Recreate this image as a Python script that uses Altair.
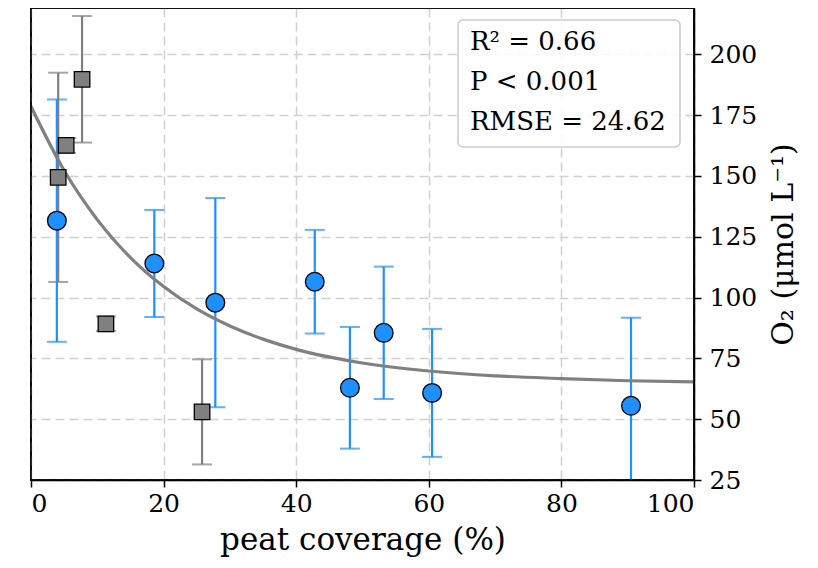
import altair as alt
import pandas as pd

# Blue circles (mean and symmetric error)
blue_x = [3.9, 18.6, 27.8, 42.8, 48.1, 53.2, 60.5, 90.5]
blue_y = [131.6, 114.0, 97.9, 106.5, 62.9, 85.5, 60.8, 55.5]
blue_err = [49.8, 22.0, 43.0, 21.3, 25.0, 27.2, 26.3, 36.2]

# Grey squares
grey_x = [4.1, 5.3, 7.7, 11.3, 25.8]
grey_y = [149.4, 162.5, 189.7, 89.2, 53.0]
grey_err = [43.0, 3.0, 26.0, 3.0, 21.6]

# Fitted curve
fit_x = [0, 5, 10, 15, 20, 25, 30, 35, 40, 50, 60, 70, 80, 90, 100]
fit_y = [178.5, 152.2, 132.0, 116.4, 104.5, 95.3, 88.3, 82.9, 78.7, 73.1, 69.8, 67.8, 66.7, 65.8, 65.3]

stats_lines = ["R\u00b2 = 0.66", "P < 0.001", "RMSE = 24.62"]

x_ticks = [0, 20, 40, 60, 80, 100]
y_ticks = [25, 50, 75, 100, 125, 150, 175, 200]

FONT = "DejaVu Serif"
BLUE = "#1E90FF"
GREY = "#808080"

W, H = 663, 472

blue_df = pd.DataFrame({"x": blue_x, "y": blue_y, "err": blue_err})
grey_df = pd.DataFrame({"x": grey_x, "y": grey_y, "err": grey_err})
fit_df = pd.DataFrame({"x": fit_x, "y": fit_y})
stats_df = pd.DataFrame({"t": stats_lines, "i": list(range(len(stats_lines)))})

x_axis = alt.Axis(values=x_ticks, title="peat coverage (%)", grid=True,
                  labelFontSize=25, titleFontSize=31, labelPadding=4, titlePadding=9)
y_axis = alt.Axis(values=y_ticks, orient="right", title="O\u2082 (\u03bcmol L\u207b\u00b9)", grid=True,
                  labelFontSize=25, titleFontSize=30, labelPadding=8, titlePadding=12,
                  titleAngle=270, titleBaseline="top")
xs = alt.Scale(domain=[0, 100], nice=False, zero=False)
ys = alt.Scale(domain=[25, 219], nice=False, zero=False)


def X(f):
    return alt.X(f"{f}:Q", scale=xs, axis=x_axis)


def Y(f):
    return alt.Y(f"{f}:Q", scale=ys, axis=y_axis)


def bars(df, color):
    base = alt.Chart(df).transform_calculate(lo="datum.y - datum.err", hi="datum.y + datum.err")
    rule = base.mark_rule(color=color, strokeWidth=2.2, clip=True).encode(
        x=X("x"), y=Y("lo"), y2="hi:Q")
    cap_lo = base.mark_tick(color=color, orient="horizontal", size=20, thickness=2, clip=True).encode(
        x=X("x"), y=Y("lo"))
    cap_hi = base.mark_tick(color=color, orient="horizontal", size=20, thickness=2, clip=True).encode(
        x=X("x"), y=Y("hi"))
    return [rule, cap_lo, cap_hi]


fit = alt.Chart(fit_df).mark_line(color=GREY, strokeWidth=3.2, interpolate="monotone", clip=True).encode(
    x=X("x"), y=Y("y"))

squares = alt.Chart(grey_df).mark_point(shape="square", filled=True, size=240, color=GREY,
                                         stroke="black", strokeWidth=1.3, opacity=1).encode(
    x=X("x"), y=Y("y"))
circles = alt.Chart(blue_df).mark_point(shape="circle", filled=True, size=350, color=BLUE,
                                         stroke="black", strokeWidth=1.3, opacity=1).encode(
    x=X("x"), y=Y("y"))

one = pd.DataFrame({"a": [0]})
box = alt.Chart(one).mark_rect(
    fill="white", fillOpacity=0.85, stroke="#cccccc", strokeWidth=1.5, cornerRadius=5).encode(
    x=alt.value(427), x2=alt.value(649), y=alt.value(12), y2=alt.value(139))

texts = alt.Chart(stats_df).transform_calculate(py="34 + 40 * datum.i").mark_text(
    align="left", baseline="middle", font=FONT, fontSize=26, color="black").encode(
    x=alt.value(439), y=alt.Y("py:Q", scale=None, axis=None), text="t:N")

frame = alt.Chart(one).mark_rect(fill="transparent", stroke="black", strokeWidth=1.6).encode(
    x=alt.value(0), x2=alt.value(W), y=alt.value(0), y2=alt.value(H))

layers = bars(blue_df, BLUE) + bars(grey_df, GREY) + [fit, squares, circles, box, texts, frame]

chart = alt.layer(*layers).properties(
    width=W, height=H,
    autosize=alt.AutoSizeParams(type="none"),
    padding={"left": 23, "top": 0, "right": 110, "bottom": 80},
).configure_view(
    stroke="black", strokeWidth=1.5
).configure_axis(
    labelFont=FONT, titleFont=FONT, labelColor="black", titleColor="black",
    titleFontWeight="normal", domainColor="black", domainWidth=1.5,
    tickColor="black", tickWidth=1.5, tickSize=7,
    gridColor="#d0d0d0", gridDash=[9, 5], gridWidth=1.5,
)

chart.save("out.html", embed_options={"renderer": "svg", "actions": False})
